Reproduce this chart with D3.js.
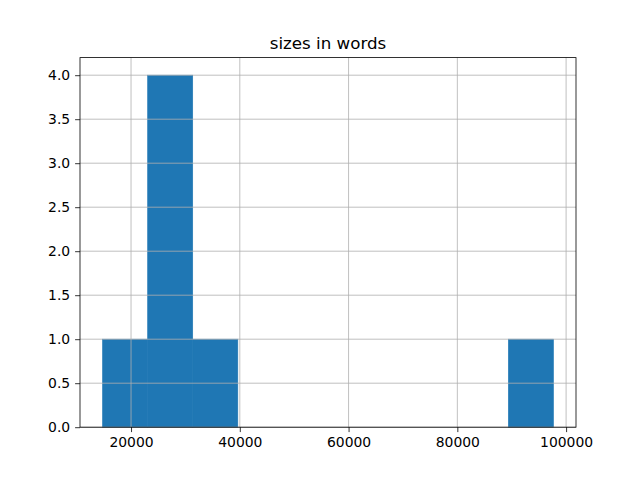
<!DOCTYPE html>
<html>
<head>
<meta charset="utf-8">
<script src="https://cdn.jsdelivr.net/npm/d3@7"></script>
<style>
  body { margin: 0; background: #fff; }
  text { font-family: "DejaVu Sans", sans-serif; }
</style>
</head>
<body>
<div id="chart"></div>
<script>
// histogram of "sizes in words": 10 bins between min and max
var binRange = [14760, 97675];
var binCounts = [1, 4, 1, 0, 0, 0, 0, 0, 0, 1];
var xTicks = [20000, 40000, 60000, 80000, 100000];
var yTicks = [0, 0.5, 1, 1.5, 2, 2.5, 3, 3.5, 4];
var title = "sizes in words";

var svgWidth = 640, svgHeight = 480;
var margin = { top: 57.6, right: 64, bottom: 52.8, left: 80 };
var width = svgWidth - margin.left - margin.right;
var height = svgHeight - margin.top - margin.bottom;

var svg = d3.select("#chart").append("svg")
  .attr("width", svgWidth)
  .attr("height", svgHeight);

var g = svg.append("g")
  .attr("transform", `translate(${margin.left}, ${margin.top})`);

// bin edges
var binW = (binRange[1] - binRange[0]) / binCounts.length;
var bins = binCounts.map(function(c, i) {
  return { x0: binRange[0] + i * binW, x1: binRange[0] + (i + 1) * binW, count: c };
});

var span = binRange[1] - binRange[0];
var x = d3.scaleLinear()
  .domain([binRange[0] - 0.05 * span, binRange[1] + 0.05 * span])
  .range([0, width]);

var y = d3.scaleLinear()
  .domain([0, d3.max(binCounts) * 1.05])
  .range([height, 0]);

// bars (stroke in same colour to hide seams between touching bars)
g.selectAll("rect.bar")
  .data(bins.filter(d => d.count > 0))
  .enter()
  .append("rect")
  .attr("class", "bar")
  .attr("x", d => x(d.x0))
  .attr("width", d => x(d.x1) - x(d.x0))
  .attr("y", d => y(d.count))
  .attr("height", d => y(0) - y(d.count))
  .attr("fill", "#1f77b4")
  .attr("stroke", "#1f77b4")
  .attr("stroke-width", 0.6);

// grid lines on top of bars
g.append("g").selectAll("line")
  .data(xTicks)
  .enter().append("line")
  .attr("x1", d => x(d)).attr("x2", d => x(d))
  .attr("y1", 0).attr("y2", height)
  .attr("stroke", "#b0b0b0").attr("stroke-width", 0.8);

g.append("g").selectAll("line")
  .data(yTicks)
  .enter().append("line")
  .attr("y1", d => y(d)).attr("y2", d => y(d))
  .attr("x1", 0).attr("x2", width)
  .attr("stroke", "#b0b0b0").attr("stroke-width", 0.8);

// axes
var bottomAxis = d3.axisBottom(x).tickValues(xTicks).tickFormat(d3.format("d")).tickSize(4.9).tickPadding(4.9);
var leftAxis = d3.axisLeft(y).tickValues(yTicks).tickFormat(d3.format(".1f")).tickSize(4.9).tickPadding(4.9);

var xg = g.append("g")
  .attr("transform", `translate(0, ${height})`)
  .call(bottomAxis);
var yg = g.append("g").call(leftAxis);

[xg, yg].forEach(function(a) {
  a.select(".domain").remove();
  a.selectAll(".tick line").attr("stroke", "#000").attr("stroke-width", 0.8);
  a.selectAll(".tick text").attr("font-size", "13.9px").attr("fill", "#000")
    .attr("font-family", "DejaVu Sans");
});

// spines
g.append("rect")
  .attr("width", width).attr("height", height)
  .attr("fill", "none").attr("stroke", "#000").attr("stroke-width", 0.8);

// title
g.append("text")
  .attr("x", width / 2)
  .attr("y", -8.5)
  .attr("text-anchor", "middle")
  .attr("font-size", "16.7px")
  .text(title);
</script>
</body>
</html>
